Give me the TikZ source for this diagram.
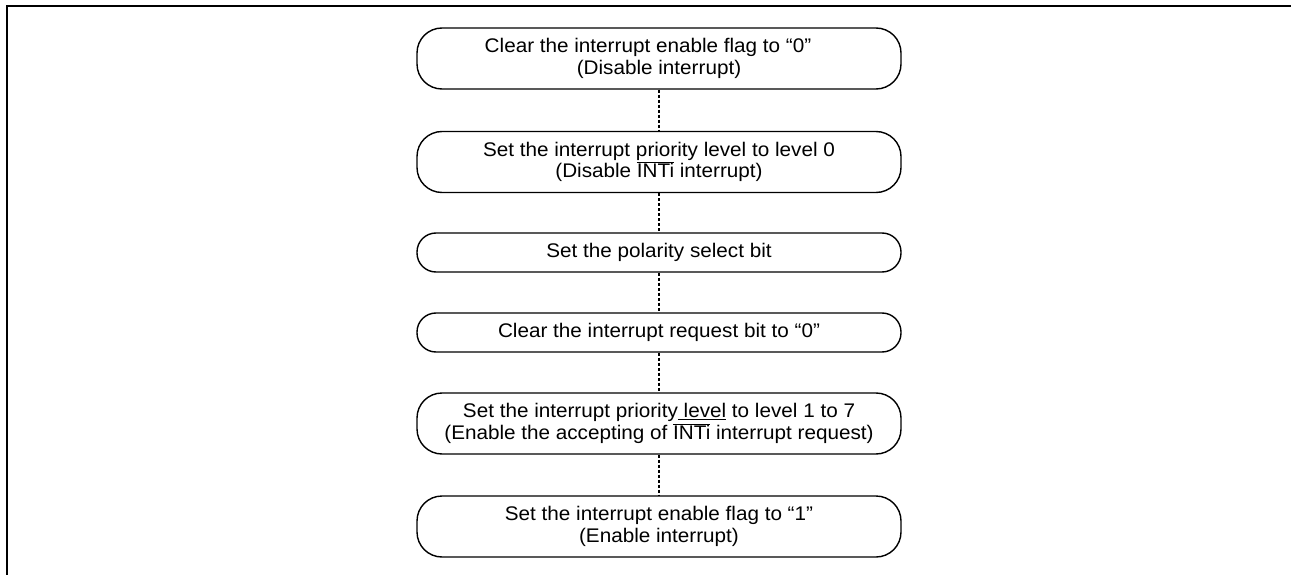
\documentclass[tikz,border=0pt]{standalone}
\usepackage{fontspec}
\setmainfont{Liberation Sans}[FakeStretch=1.05]

\begin{document}
\begin{tikzpicture}[
    x=1pt,y=1pt,
    font=\fontsize{19.7}{21.7}\selectfont,
    stepbox/.style={draw=black, line width=1.4pt, align=center,
        minimum width=484pt, inner sep=0pt},
    twostep/.style={stepbox, minimum height=61pt, rounded corners=25pt},
    onestep/.style={stepbox, minimum height=39pt, rounded corners=19pt},
    dotlink/.style={draw=black, line width=1.3pt, dash pattern=on 3pt off 2pt},
    frameline/.style={draw=black, line width=2.4pt}
]

\useasboundingbox (0,0) rectangle (1291,-575);

\coordinate (FL) at (7,-575);
\coordinate (FC) at (7,-6);
\coordinate (FR) at (1291,-6);
\draw[frameline] (FL) -- (FC) -- (FR);


\node[twostep] (clrflag) at (659,-58.5)
    {Clear the interrupt enable flag to “0”\hspace*{22pt}\\(Disable interrupt)};
\node[twostep] (lvlzero) at (659,-162)
    {Set the interrupt priority level to level 0\\(Disable $\overline{\mbox{INTi}}$ interrupt)};
\node[onestep] (polsel) at (659,-252.5)
    {Set the polarity select bit};
\node[onestep] (clrreq) at (659,-332.5)
    {Clear the interrupt request bit to “0”};
\node[twostep] (lvlset) at (659,-423.5)
    {Set the interrupt priority\underline{ level} to level 1 to 7\\(Enable the accepting of $\overline{\mbox{INTi}}$ interrupt request)};
\node[twostep] (setflag) at (659,-526.5)
    {Set the interrupt enable flag to “1”\\(Enable interrupt)};


\draw[dotlink] (clrflag) -- (lvlzero);
\draw[dotlink] (lvlzero) -- (polsel);
\draw[dotlink] (polsel) -- (clrreq);
\draw[dotlink] (clrreq) -- (lvlset);
\draw[dotlink] (lvlset) -- (setflag);
\end{tikzpicture}
\end{document}
